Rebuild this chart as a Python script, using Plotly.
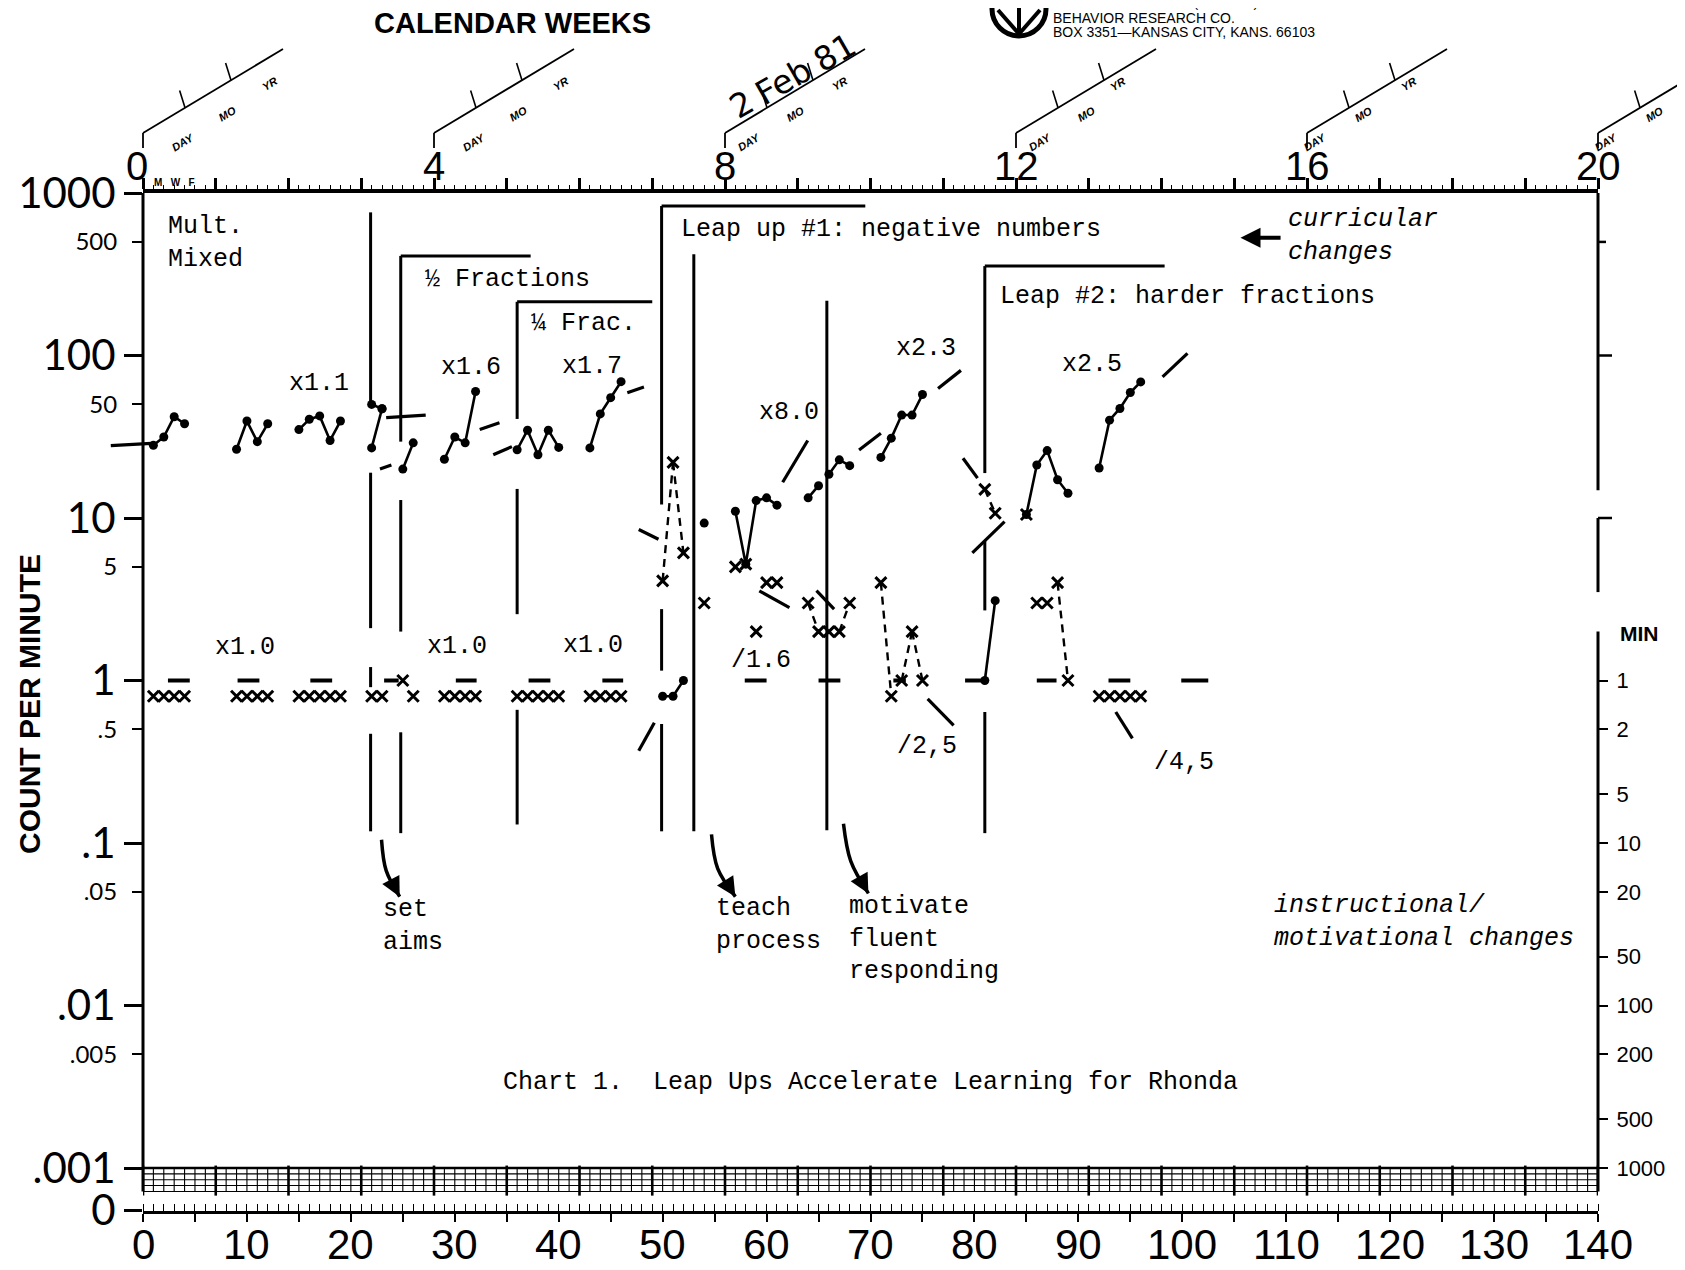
import math
import plotly.graph_objects as go

# ===================== DATA =====================
week_labels = ["0", "4", "8", "12", "16", "20"]
day_labels = ["0", "10", "20", "30", "40", "50", "60", "70", "80", "90",
              "100", "110", "120", "130", "140"]
count_major_vals = [1000, 100, 10, 1, 0.1, 0.01, 0.001]
count_major_text = ["1000", "100", "10", "1", ".1", ".01", ".001"]
count_minor_vals = [500, 50, 5, 0.5, 0.05, 0.005]
count_minor_text = ["500", "50", "5", ".5", ".05", ".005"]
minute_vals = [1, 0.5, 0.2, 0.1, 0.05, 0.02, 0.01, 0.005, 0.002, 0.001]
minute_text = ["1", "2", "5", "10", "20", "50", "100", "200", "500", "1000"]

# correct responses per minute (dots), one list per connected run
correct_days = [
    [1, 2, 3, 4],
    [9, 10, 11, 12],
    [15, 16, 17, 18, 19],
    [22, 23],
    [22, 23],
    [25, 26],
    [29, 30, 31, 32],
    [36, 37, 38, 39, 40],
    [43, 44, 45, 46],
    [50, 51, 52],
    [54],
    [57, 58, 59, 60, 61],
    [64, 65],
    [66, 67, 68],
    [71, 72, 73, 74, 75],
    [81, 82],
    [85, 86, 87, 88, 89],
    [92, 93, 94, 95, 96],
]
correct_vals = [
    [28, 31.5, 42, 38],
    [26.5, 39.5, 29.5, 38],
    [35, 40.5, 42.5, 30, 39.5],
    [27, 47],
    [50, 47],
    [20, 29],
    [23, 31.5, 29, 60],
    [26.3, 34.7, 24.5, 34.7, 27.2],
    [27, 43.7, 55, 69],
    [0.8, 0.8, 1.0],
    [9.3],
    [11, 5.2, 12.8, 13.3, 12],
    [13.3, 15.8],
    [18.6, 22.8, 21],
    [23.6, 31, 43, 43, 57.5],
    [1.0, 3.1],
    [10.5, 21.2, 26, 17.2, 14.2],
    [20.3, 40, 47.2, 59.2, 68.8],
]

# errors per minute (x marks); 0.8 = zero count plotted below the record floor
error_days = [1, 2, 3, 4, 9, 10, 11, 12, 15, 16, 17, 18, 19,
              22, 23, 25, 26, 29, 30, 31, 32, 36, 37, 38, 39, 40,
              43, 44, 45, 46, 50, 51, 52, 54, 57, 58, 59, 60, 61,
              64, 65, 66, 67, 68, 71, 72, 73, 74, 75, 81, 82,
              85, 86, 87, 88, 89, 92, 93, 94, 95, 96]
error_vals = [0.8, 0.8, 0.8, 0.8, 0.8, 0.8, 0.8, 0.8, 0.8, 0.8, 0.8, 0.8, 0.8,
              0.8, 0.8, 1.0, 0.8, 0.8, 0.8, 0.8, 0.8, 0.8, 0.8, 0.8, 0.8, 0.8,
              0.8, 0.8, 0.8, 0.8, 4.1, 22, 6.1, 3.0, 5.0, 5.2, 2.0, 4.0, 4.0,
              3.0, 2.0, 2.0, 2.0, 3.0, 4.0, 0.8, 1.0, 2.0, 1.0, 15, 10.7,
              10.5, 3.0, 3.0, 4.0, 1.0, 0.8, 0.8, 0.8, 0.8, 0.8]
error_links = [(50, 51), (51, 52), (64, 65), (67, 68), (71, 72),
               (73, 74), (74, 75), (81, 82), (88, 89)]

# celeration / projection lines
cel_day0 = [-3.1, 22.8, 23.4, 32.4, 33.7, 46.6, 47.7, 47.7, 59.3, 61.55,
            64.8, 68.9, 75.5, 76.5, 78.9, 79.8, 93.6, 98.1]
cel_day1 = [0.8, 23.9, 27.2, 34.3, 35.5, 48.2, 49.6, 49.2, 62.2, 63.96,
            66.5, 71.0, 78.0, 78.7, 80.3, 82.9, 95.2, 100.5]
cel_val0 = [27.9, 20.0, 41.5, 35.0, 24.5, 59, 8.5, 0.37, 3.56, 16.6,
            3.57, 26.2, 0.77, 62.7, 23.3, 6.1, 0.64, 73.9]
cel_val1 = [28.8, 21.2, 43.0, 38.5, 27.5, 64, 7.4, 0.55, 2.81, 30.0,
            2.75, 33.2, 0.53, 81.0, 17.6, 9.5, 0.44, 103]

# phase change lines: day, drawn vertical pieces (top, bottom), end of top bar
phase_days = [21.9, 24.8, 36.0, 49.9, 53.0, 65.8, 81.0]
phase_segments = [
    [(760, 51), (19, 2.1), (1.21, 0.91), (0.47, 0.118)],
    [(410, 29.5), (12.9, 2.0), (0.48, 0.115)],
    [(214, 40.7), (15.1, 2.56), (0.66, 0.13)],
    [(832, 12.1), (2.75, 1.15), (0.54, 0.118)],
    [(420, 0.118)],
    [(217, 0.12)],
    [(355, 18.9), (7.2, 2.7), (0.64, 0.115)],
]
phase_bar_end = [None, 37.3, 49.0, 69.5, None, None, 98.3]

# record floor dashes (1 per minute)
floor_start = [2.4, 9.1, 16.1, 23.2, 30.1, 37.1, 44.2, 57.9, 65.0, 72.2, 79.1, 86.0, 92.9, 99.9]
floor_end = [4.5, 11.2, 18.2, 24.6, 32.1, 39.2, 46.2, 60.0, 67.1, 73.4, 80.9, 87.9, 95.0, 102.5]

# ===================== LAYOUT CONSTANTS =====================
OFF = 8                      # page body margin the figure sits inside
FW, FH = 1685 - OFF, 1270 - OFF
PW, PH = 1455, 1018
TOP, BOT = 193, 193 + PH     # page y of 1000 line and of the zero line
ML, MT = 143 - OFF, TOP - OFF
MR = FW - ML - PW
MB = FH - MT - PH
DEC = 162.5                  # pixels per decade
YMAX = 3.0
YMIN = YMAX - PH / DEC
BAND = -3.145                # bottom of the chart-paper band (log)
SANS = "Liberation Sans Narrow, Liberation Sans, Arial, sans-serif"
ROUND = "Lato, Liberation Sans, sans-serif"
MONO = "Liberation Mono, Courier New, monospace"
INK = "black"


def lg(v):
    return math.log10(v)


def pxx(px):            # page pixel x -> paper
    return (px - 143) / PW


def pxy(py):            # page pixel y -> paper
    return (BOT - py) / PH


fig = go.Figure()

# ---- chart-paper band below .001 ----
gx, gy = [], []
for d in range(0, 141):
    gx += [d, d, None]
    gy += [10 ** -3.0, 10 ** BAND, None]
for r in [-3.036, -3.072, -3.108, BAND]:
    gx += [0, 140, None]
    gy += [10 ** r, 10 ** r, None]
fig.add_trace(go.Scatter(x=gx, y=gy, mode="lines", line=dict(color=INK, width=1.1),
                         hoverinfo="skip"))
wx, wy = [], []
for d in range(0, 141, 7):
    wx += [d, d, None]
    wy += [10 ** -2.985, 10 ** (BAND - 0.025), None]
wx += [0, 140, None]
wy += [1e-3, 1e-3, None]
fig.add_trace(go.Scatter(x=wx, y=wy, mode="lines", line=dict(color=INK, width=2.6),
                         hoverinfo="skip"))

# ---- phase change lines ----
phx, phy = [], []
for d, segs, bar in zip(phase_days, phase_segments, phase_bar_end):
    for top, bot in segs:
        phx += [d, d, None]
        phy += [top, bot, None]
    if bar is not None:
        top = segs[0][0]
        phx += [d, bar, None]
        phy += [top, top, None]
fig.add_trace(go.Scatter(x=phx, y=phy, mode="lines", line=dict(color=INK, width=3),
                         hoverinfo="skip"))

# ---- celeration lines ----
cx, cy = [], []
for d0, d1, v0, v1 in zip(cel_day0, cel_day1, cel_val0, cel_val1):
    if d0 < 0:
        continue
    cx += [d0, d1, None]
    cy += [v0, v1, None]
fig.add_trace(go.Scatter(x=cx, y=cy, mode="lines", line=dict(color=INK, width=3.2),
                         hoverinfo="skip"))
shapes = []
for d0, d1, v0, v1 in zip(cel_day0, cel_day1, cel_val0, cel_val1):
    if d0 < 0:  # the line that runs out past the left axis
        shapes.append(dict(type="line", xref="paper", yref="paper",
                           x0=d0 / 140, x1=d1 / 140,
                           y0=(lg(v0) - YMIN) / (YMAX - YMIN),
                           y1=(lg(v1) - YMIN) / (YMAX - YMIN),
                           line=dict(color=INK, width=3.2)))

# ---- record floor ----
fx, fy = [], []
for a, b in zip(floor_start, floor_end):
    fx += [a, b, None]
    fy += [1.0, 1.0, None]
fig.add_trace(go.Scatter(x=fx, y=fy, mode="lines", line=dict(color=INK, width=4),
                         hoverinfo="skip"))

# ---- error connections ----
err_lookup = dict(zip(error_days, error_vals))
ex, ey = [], []
for a, b in error_links:
    ex += [a, b, None]
    ey += [err_lookup[a], err_lookup[b], None]
fig.add_trace(go.Scatter(x=ex, y=ey, mode="lines",
                         line=dict(color=INK, width=2.4, dash="8px,6px"), hoverinfo="skip"))

# ---- corrects ----
kx, ky = [], []
for ds, vs in zip(correct_days, correct_vals):
    kx += list(ds) + [None]
    ky += list(vs) + [None]
fig.add_trace(go.Scatter(x=kx, y=ky, mode="lines+markers", cliponaxis=False,
                         line=dict(color=INK, width=2.6),
                         marker=dict(symbol="circle", size=9, color=INK)))

# ---- errors ----
fig.add_trace(go.Scatter(x=error_days, y=error_vals, mode="markers", cliponaxis=False,
                         marker=dict(symbol="x-thin", size=11,
                                     line=dict(color=INK, width=3))))

# ---- invisible anchors so the overlay axes get drawn ----
fig.add_trace(go.Scatter(x=[70], y=[1], xaxis="x2", yaxis="y", mode="markers",
                         marker=dict(opacity=0), hoverinfo="skip"))
fig.add_trace(go.Scatter(x=[70], y=[1], xaxis="x", yaxis="y2", mode="markers",
                         marker=dict(opacity=0), hoverinfo="skip"))
fig.add_trace(go.Scatter(x=[70], y=[1], xaxis="x", yaxis="y3", mode="markers",
                         marker=dict(opacity=0), hoverinfo="skip"))

# ---- axis decorations as shapes (raw values on the log axis) ----
shapes.append(dict(type="line", xref="paper", yref="y", x0=0, x1=0,
                   y0=10 ** YMAX, y1=10 ** BAND, line=dict(color=INK, width=3)))
for top, bot in [(1000, 14.8), (10, 3.5), (2.0, 10 ** BAND)]:
    shapes.append(dict(type="line", xref="paper", yref="y", x0=1, x1=1, y0=top, y1=bot,
                       line=dict(color=INK, width=3)))
for v, ln in [(500, 8), (100, 14), (10, 14)]:
    shapes.append(dict(type="line", xref="paper", yref="y", x0=1, x1=1 + ln / PW,
                       y0=v, y1=v, line=dict(color=INK, width=2.5)))

# date boxes above every 4th week
ann = []
for i, wk in enumerate(range(0, 21, 4)):
    bx = 143 + wk * 7 * PW / 140
    shapes.append(dict(type="line", xref="paper", yref="paper",
                       x0=pxx(bx), x1=pxx(bx), y0=pxy(148), y1=pxy(133),
                       line=dict(color=INK, width=1.8)))
    shapes.append(dict(type="line", xref="paper", yref="paper",
                       x0=pxx(bx), x1=pxx(bx + 140), y0=pxy(133), y1=pxy(49),
                       line=dict(color=INK, width=1.8)))
    for off in (42, 88):
        yb = 133 - off * 0.6
        shapes.append(dict(type="line", xref="paper", yref="paper",
                           x0=pxx(bx + off), x1=pxx(bx + off - 5.4),
                           y0=pxy(yb), y1=pxy(yb - 17.3),
                           line=dict(color=INK, width=1.6)))
    for txt, ox, oy in [("DAY", 24, 128), ("MO", 70, 101), ("YR", 114, 72)]:
        ann.append(dict(text="<b><i>" + txt + "</i></b>", xref="paper", yref="paper",
                        x=pxx(bx + ox), y=pxy(oy), showarrow=False, textangle=-31,
                        font=dict(family=SANS, size=11, color=INK)))

# logo
shapes.append(dict(type="circle", xref="paper", yref="paper",
                   x0=pxx(992), x1=pxx(1046), y0=pxy(36), y1=pxy(-18),
                   line=dict(color=INK, width=5)))
for (x0, y0, x1, y1, w) in [(993, 3, 1045, 3, 6), (998, 10, 1019, 34, 4),
                            (1040, 10, 1019, 34, 4), (1019, 8, 1019, 34, 4)]:
    shapes.append(dict(type="line", xref="paper", yref="paper",
                       x0=pxx(x0), x1=pxx(x1), y0=pxy(y0), y1=pxy(y1),
                       line=dict(color=INK, width=w)))


# ---- text ----
def add_text(text, x, y, size=25, family=MONO, xanchor="center", yanchor="middle",
             xref="x", yref="y", angle=0, align="left", xshift=0):
    ann.append(dict(text=text, x=x, y=y, xref=xref, yref=yref, showarrow=False,
                    xanchor=xanchor, yanchor=yanchor, textangle=angle, align=align,
                    xshift=xshift, font=dict(family=family, size=size, color=INK)))


# axis number labels
for i, lab in enumerate(day_labels):
    add_text(lab, i * 10, pxy(1244), size=42, family=SANS, yref="paper")
for i, lab in enumerate(week_labels):
    add_text(lab, i * 28, pxy(166), size=40, family=SANS, yref="paper",
             xshift=-6 if i == 0 else 0)

add_text("<b>CALENDAR WEEKS</b>", pxx(477 / 0.9306), pxy(23), size=29, family=SANS,
         xref="paper", yref="paper")
add_text("<b>COUNT PER MINUTE</b>", pxx(29), pxy(704), size=30, family=SANS,
         xref="paper", yref="paper", angle=-90)
add_text("<b>M   W   F</b>", 0.9, pxy(183), size=10, family=SANS, xanchor="left",
         yref="paper")
for txt, py in [("6 CYCLE\u2014140 DAYS (20 WKS.)", 2), ("BEHAVIOR RESEARCH CO.", 18),
                ("BOX 3351\u2014KANSAS CITY, KANS. 66103", 32)]:
    add_text(txt, pxx(1051), pxy(py), size=14, family="Liberation Sans, Arial, sans-serif",
             xanchor="left", xref="paper", yref="paper")
add_text("<b>MIN</b>", pxx(1618), pxy(633), size=21, family=SANS, xanchor="left",
         xref="paper", yref="paper")
# handwritten date
for txt, px, py in [("2", 741, 104), ("Feb", 783, 81), ("81", 835, 53)]:
    add_text(txt, pxx(px), pxy(py), size=33, family="DejaVu Sans, sans-serif",
             xref="paper", yref="paper", angle=-30)

add_text("Mult.<br>Mixed", 2.2, lg(490), xanchor="left")
add_text("\u00bd Fractions", 26.9, lg(295), xanchor="left")
add_text("\u00bc Frac.", 37.1, lg(158), xanchor="left")
add_text("Leap up #1: negative numbers", 51.6, lg(597), xanchor="left")
add_text("Leap #2: harder fractions", 82.3, lg(230), xanchor="left")
for txt, d, v in [("x1.1", 16.9, 67.5), ("x1.6", 31.6, 84.7), ("x1.7", 43.2, 86),
                  ("x8.0", 62.2, 44.8), ("x2.3", 75.3, 110), ("x2.5", 91.3, 88.5),
                  ("x1.0", 9.8, 1.6), ("x1.0", 30.2, 1.62), ("x1.0", 43.3, 1.65),
                  ("/1.6", 59.5, 1.33), ("/2,5", 75.4, 0.391), ("/4,5", 100.2, 0.311)]:
    add_text(txt, d, lg(v))
add_text("set<br>aims", 22.9, lg(0.0307), xanchor="left")
add_text("teach<br>process", 54.9, lg(0.0311), xanchor="left")
add_text("motivate<br>fluent<br>responding", 67.7, lg(0.0256), xanchor="left")
add_text("<i>curricular<br>changes</i>", 110.0, lg(546), xanchor="left")
add_text("<i>instructional/<br>motivational changes</i>", 108.6, lg(0.0326), xanchor="left")
add_text("Chart 1.  Leap Ups Accelerate Learning for Rhonda", 70.0, lg(0.00336))

# arrows
ann.append(dict(x=105.6, y=lg(530), ax=109.6, ay=lg(530), xref="x", yref="y",
                axref="x", ayref="y", text="", showarrow=True, arrowhead=2,
                arrowsize=1.0, arrowwidth=4, arrowcolor=INK))
for pts in [[(22.95, -0.98), (23.4, -1.17), (24.7, -1.33)],
            [(54.7, -0.947), (55.3, -1.158), (57.0, -1.33)],
            [(67.4, -0.882), (68.1, -1.112), (69.8, -1.31)]]:
    fig.add_trace(go.Scatter(x=[p[0] for p in pts], y=[10 ** p[1] for p in pts],
                             mode="lines", line=dict(color=INK, width=3.5, shape="spline"),
                             hoverinfo="skip"))
    ann.append(dict(x=pts[2][0], y=pts[2][1], ax=pts[1][0] + 0.6 * (pts[2][0] - pts[1][0]),
                    ay=pts[1][1] + 0.6 * (pts[2][1] - pts[1][1]),
                    xref="x", yref="y", axref="x", ayref="y", text="", showarrow=True,
                    arrowhead=2, arrowsize=1.1, arrowwidth=3.5, arrowcolor=INK))

# ===================== AXES =====================
bottom_vals = list(range(0, 141, 5))
top_vals = list(range(0, 141, 7))

fig.update_layout(
    width=FW, height=FH, template="none",
    margin=dict(l=ML, r=MR, t=MT, b=MB, autoexpand=False),
    paper_bgcolor="white", plot_bgcolor="white", showlegend=False,
    shapes=shapes, annotations=ann,
    xaxis=dict(range=[0, 140], showgrid=False, zeroline=False, showline=True,
               linecolor=INK, linewidth=3, ticks="outside", tickvals=bottom_vals,
               showticklabels=False, ticklen=8, tickwidth=2, tickcolor=INK,
               automargin=False,
               minor=dict(ticks="inside", dtick=1, tick0=0, ticklen=7, tickwidth=1.3,
                          tickcolor=INK, showgrid=False)),
    xaxis2=dict(overlaying="x", side="top", anchor="y", range=[0, 140], showgrid=False,
                zeroline=False, showline=True, linecolor=INK, linewidth=3.5,
                ticks="outside", tickvals=top_vals, showticklabels=False, ticklen=11,
                tickwidth=2.5, tickcolor=INK, automargin=False,
                minor=dict(ticks="outside", dtick=1, tick0=0, ticklen=4, tickwidth=1.2,
                           tickcolor=INK, showgrid=False)),
    yaxis=dict(type="log", range=[YMIN, YMAX], showgrid=False, zeroline=False,
               showline=False, ticks="outside",
               tickvals=count_major_vals + [10 ** (YMIN + 0.004)],
               ticktext=count_major_text + ["0"], ticklen=18, tickwidth=2.5, tickcolor=INK,
               tickfont=dict(family=ROUND, size=42, color=INK), automargin=False),
    yaxis2=dict(type="log", overlaying="y", side="left", anchor="x", range=[YMIN, YMAX],
                showgrid=False, zeroline=False, showline=False, ticks="outside",
                tickvals=count_minor_vals, ticktext=count_minor_text, ticklen=10,
                tickwidth=2, tickcolor=INK, ticklabelstandoff=10, automargin=False,
                tickfont=dict(family=ROUND, size=24, color=INK)),
    yaxis3=dict(type="log", overlaying="y", side="right", anchor="x", range=[YMIN, YMAX],
                showgrid=False, zeroline=False, showline=False, ticks="outside",
                tickvals=minute_vals, ticktext=minute_text, ticklen=9, tickwidth=2,
                tickcolor=INK, automargin=False, ticklabelstandoff=4,
                tickfont=dict(family=SANS, size=22, color=INK)),
)

fig.write_html("out.html")
